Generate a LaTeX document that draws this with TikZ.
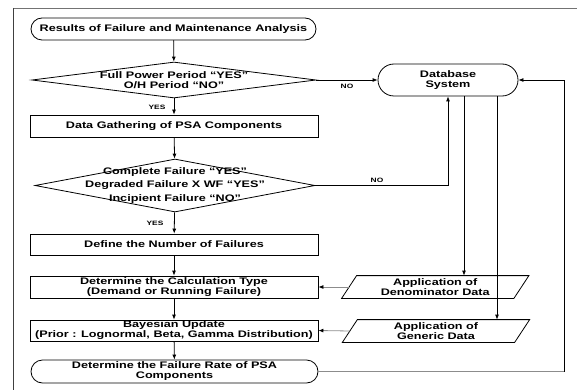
\documentclass[tikz,border=0pt]{standalone}
\usepackage{fontspec}
\setmainfont{Liberation Sans}[FakeStretch=1.33]
\usetikzlibrary{arrows.meta,shapes.geometric,shapes.misc}
\begin{document}
\begin{tikzpicture}[x=1pt,y=-1pt,line width=0.8pt,
  font=\bfseries\fontsize{9.5}{10}\selectfont,
  box/.style={draw, rectangle, minimum width=288pt, minimum height=22pt, inner sep=0pt, align=center},
  term/.style={draw, rounded rectangle, minimum height=22pt, inner sep=0pt, align=center},
  dia/.style={draw, diamond, inner sep=0pt},
  txt/.style={inner sep=0pt, align=center},
  lbl/.style={inner sep=0pt, font=\bfseries\fontsize{6.3}{7}\selectfont},
  arr/.style={-{Latex[length=5pt,width=4pt]}},
  garr/.style={draw=black!45, -{Latex[length=5pt,width=4pt,color=black]}}]
\useasboundingbox (0,0) rectangle (577,390);
% frame
\draw[black!55] (577,8) -- (13,8);
\draw[black!75] (13,8) -- (13,390);
% main column
\node[term, minimum width=285pt] (t1) at (173.5,29) {Results of Failure and Maintenance Analysis};
\node[dia, minimum width=284pt, minimum height=36pt] (d1) at (174,80) {};
\node[txt] (d1t) at (174,80) {Full Power Period “YES”\\O/H Period “NO”};
\node[box] (b1) at (174,126) {Data Gathering of PSA Components};
\node[dia, minimum width=280pt, minimum height=53pt] (d2) at (175,185.5) {};
\node[txt, font=\bfseries\fontsize{9.5}{13.5}\selectfont] (d2t) at (175,185.5) {Complete Failure “YES”\\Degraded Failure X WF “YES”\\Incipient Failure “NO”};
\node[box, minimum height=21pt] (b2) at (174,244.5) {Define the Number of Failures};
\node[box] (b3) at (174,287) {Determine the Calculation Type\\(Demand or Running Failure)};
\node[box, minimum height=21pt] (b4) at (174,330.5) {Bayesian Update\\(Prior : Lognormal, Beta, Gamma Distribution)};
\node[term, minimum width=287pt, minimum height=23pt] (t2) at (174.5,371.5) {Determine the Failure Rate of PSA\\Components};
% right column
\node[term, minimum width=140pt, minimum height=32pt] (db) at (448,80) {Database\\System};
\node[txt, minimum width=171.5pt, minimum height=22pt] (p1) at (435.25,287) {Application of\\Denominator Data};
\node[txt, minimum width=171.5pt, minimum height=22pt] (p2) at (436,331) {Application of\\Generic Data};
\draw ([xshift=-7.5pt]p1.south west) -- ([xshift=7.5pt]p1.north west) -- ([xshift=7.5pt]p1.north east) -- ([xshift=-7.5pt]p1.south east) -- cycle;
\draw ([xshift=-7.5pt]p2.south west) -- ([xshift=7.5pt]p2.north west) -- ([xshift=7.5pt]p2.north east) -- ([xshift=-7.5pt]p2.south east) -- cycle;
% labels
\node[lbl] (yes1) at (157,107) {YES};
\node[lbl] (yes2) at (155,223) {YES};
\node[lbl] (no1) at (347,86) {NO};
\node[lbl] (no2) at (377,180) {NO};
% connectors
\draw[arr] (t1) -- (d1);
\draw[arr] (d1) -- (b1);
\draw[arr] (b1) -- (d2);
\draw[arr] (d2) -- (b2);
\draw[arr] (b2) -- (b3);
\draw[arr] (b3) -- (b4);
\draw[arr] (b4) -- (t2);
\draw[arr] (d1.east) -- (db.west);
\draw[arr] (d2.east) -| (db.south);
\coordinate (x1) at (464,0);
\coordinate (x2) at (497,0);
\coordinate (fb) at (564,0);
\draw[arr] (db.south -| x1) -- (p1.north -| x1);
\draw[arr] (db.south -| x2) -- (p2.north -| x2);
\draw[garr] (p1.west) -- (b3.east);
\draw[garr] (p2.west) -- (b4.east);
\draw[black!45] (t2.east) -- (t2.east -| fb);
\draw[arr] (t2.east -| fb) -- (db.east -| fb) -- (db.east);
\end{tikzpicture}
\end{document}
